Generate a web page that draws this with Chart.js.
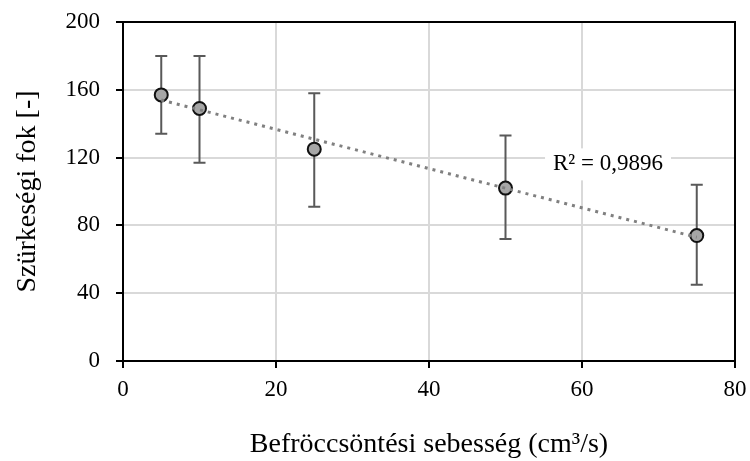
<!DOCTYPE html>
<html>
<head>
<meta charset="utf-8">
<script src="https://cdn.jsdelivr.net/npm/chart.js@4"></script>
<style>
  html, body { margin: 0; padding: 0; background: #fff; }
  #chart { display: block; }
</style>
</head>
<body>
<canvas id="chart" width="750" height="461"></canvas>
<script>
// measured data (means and error bar limits)
const speeds = [5, 10, 25, 50, 75];
const greyLevel = [157, 149, 125, 102, 74];
const errHigh = [180, 180, 158, 133, 104];
const errLow = [134, 117, 91, 72, 45];

// linear trendline end points
const trendX = [5, 75];
const trendY = [154, 73];
const r2Label = 'R² = 0,9896';

const xTicks = [0, 20, 40, 60, 80];
const yTicks = [0, 40, 80, 120, 160, 200];

const serif = "'Liberation Serif', 'Times New Roman', serif";

const errorBars = {
    id: 'errorBars',
    beforeDatasetsDraw(chart) {
        const { ctx, scales: { x, y }, chartArea } = chart;
        ctx.save();
        // top and right frame
        ctx.strokeStyle = '#000';
        ctx.lineWidth = 2;
        ctx.beginPath();
        ctx.moveTo(chartArea.left, chartArea.top);
        ctx.lineTo(chartArea.right, chartArea.top);
        ctx.lineTo(chartArea.right, chartArea.bottom);
        ctx.stroke();

        ctx.strokeStyle = '#595959';
        ctx.lineWidth = 2;
        speeds.forEach((s, i) => {
            const px = x.getPixelForValue(s);
            const top = y.getPixelForValue(errHigh[i]);
            const bot = y.getPixelForValue(errLow[i]);
            ctx.beginPath();
            ctx.moveTo(px, top);
            ctx.lineTo(px, bot);
            ctx.moveTo(px - 6, top);
            ctx.lineTo(px + 6, top);
            ctx.moveTo(px - 6, bot);
            ctx.lineTo(px + 6, bot);
            ctx.stroke();
        });
        ctx.restore();
    },
    afterDatasetsDraw(chart) {
        const { ctx, scales: { x, y } } = chart;
        const cx = x.getPixelForValue(63.4);
        const cy = y.getPixelForValue(116);
        ctx.save();
        ctx.font = `23px ${serif}`;
        const w = ctx.measureText(r2Label).width;
        ctx.fillStyle = '#fff';
        ctx.fillRect(cx - w / 2 - 8, cy - 16, w + 16, 32);
        ctx.fillStyle = '#000';
        ctx.textAlign = 'center';
        ctx.textBaseline = 'middle';
        ctx.fillText(r2Label, cx, cy);
        ctx.restore();
    }
};

new Chart(document.getElementById('chart'), {
    type: 'scatter',
    data: {
        datasets: [
            {
                type: 'line',
                data: trendX.map((v, i) => ({ x: v, y: trendY[i] })),
                borderColor: '#808080',
                borderWidth: 3,
                borderDash: [3, 5],
                pointRadius: 0,
                fill: false,
                order: 0
            },
            {
                data: speeds.map((v, i) => ({ x: v, y: greyLevel[i] })),
                pointRadius: 6.5,
                pointBackgroundColor: '#a6a6a6',
                pointBorderColor: '#111',
                pointBorderWidth: 2,
                order: 1
            }
        ]
    },
    options: {
        responsive: false,
        animation: false,
        events: [],
        layout: { padding: { top: 22, right: 15, left: 0, bottom: 0 } },
        plugins: {
            legend: { display: false },
            tooltip: { enabled: false }
        },
        scales: {
            x: {
                type: 'linear',
                min: 0,
                max: 80,
                afterFit: (scale) => {
                    scale.height = 100;
                    scale.paddingLeft = 0;
                    scale.paddingRight = 0;
                },
                afterBuildTicks: (scale) => { scale.ticks = xTicks.map(v => ({ value: v })); },
                border: { color: '#000', width: 2 },
                grid: { color: '#d9d9d9', lineWidth: 2, tickLength: 7, tickColor: '#000', tickWidth: 2 },
                ticks: { color: '#000', padding: 8, font: { family: serif, size: 23 } },
                title: {
                    display: true,
                    text: 'Befröccsöntési sebesség (cm³/s)',
                    color: '#000',
                    font: { family: serif, size: 28 },
                    padding: { top: 0, bottom: 0 }
                }
            },
            y: {
                min: 0,
                max: 200,
                afterFit: (scale) => {
                    scale.width = 123;
                    scale.paddingTop = 0;
                    scale.paddingBottom = 0;
                },
                afterBuildTicks: (scale) => { scale.ticks = yTicks.map(v => ({ value: v })); },
                border: { color: '#000', width: 2 },
                grid: { color: '#d9d9d9', lineWidth: 2, tickLength: 7, tickColor: '#000', tickWidth: 2 },
                ticks: { color: '#000', padding: 16, font: { family: serif, size: 23 } },
                title: {
                    display: true,
                    text: 'Szürkeségi fok [-]',
                    color: '#000',
                    font: { family: serif, size: 28 },
                    padding: { top: 11, bottom: 0 }
                }
            }
        }
    },
    plugins: [errorBars]
});
</script>
</body>
</html>
